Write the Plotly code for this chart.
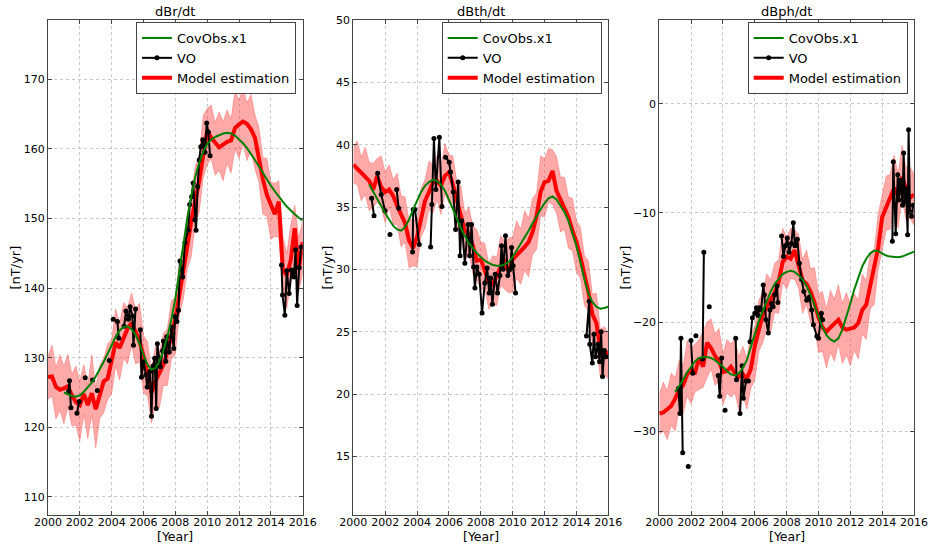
import plotly.graph_objects as go

# ---------------------------------------------------------------- data
# quarterly sampling of the model estimation (2000.0 .. 2016.0)
years = [2000 + 0.25 * i for i in range(65)]
# CovObs.x1 sampled quarterly from 2001.0 to 2016.0
cov_years = [2001 + 0.25 * i for i in range(61)]

# ---- dBr/dt
br_model = [
    127.2, 127.3, 125.8, 125.4, 125.6, 125.9, 124.6, 123.6, 123.2, 124.8, 123.2, 124.9, 122.6,
    124.5, 126.6, 127.0, 129.8, 132.2, 131.4, 132.8, 134.2, 135.0, 133.8, 132.4, 130.2, 127.6,
    125.0, 126.6, 127.8, 129.0, 130.8, 133.0, 135.6, 139.0, 143.0, 146.0, 149.6, 152.2, 155.4,
    159.0, 162.6, 161.6, 160.8, 160.2, 160.6, 161.0, 161.2, 163.0, 163.5, 163.9, 163.6, 162.8,
    161.6, 158.6, 155.6, 153.4, 151.8, 150.6, 152.4, 142.6, 141.8, 144.0, 148.6, 142.6, 146.6,
]
br_spread_up = [
    3.0, 4.5, 2.8, 5.0, 3.2, 4.6, 3.0, 5.2, 3.4, 4.2, 2.9, 5.5, 3.1,
    4.4, 3.3, 5.0, 2.8, 4.8, 3.5, 5.1, 3.0, 4.3, 3.2, 5.4, 3.0, 4.7,
    3.3, 5.0, 2.9, 4.5, 3.4, 5.2, 3.0, 4.6, 3.2, 4.9, 3.1, 5.3, 3.6,
    5.8, 3.2, 4.7, 3.0, 5.1, 3.3, 4.6, 3.1, 5.4, 3.5, 4.8, 3.0, 5.0,
    3.3, 4.5, 3.1, 5.2, 3.4, 4.4, 3.0, 4.9, 3.2, 5.1, 3.3, 4.6, 3.0,
]
br_spread_dn = [
    3.2, 2.8, 4.6, 3.0, 5.1, 2.9, 4.4, 3.3, 5.2, 3.0, 4.8, 3.1, 5.6,
    3.2, 4.5, 3.0, 5.0, 3.4, 4.6, 2.9, 5.1, 3.2, 4.7, 3.0, 5.3, 3.1,
    4.4, 3.3, 5.0, 3.0, 4.8, 3.2, 5.1, 2.9, 4.6, 3.3, 5.0, 3.1, 4.5,
    3.2, 4.9, 3.0, 4.6, 3.3, 5.2, 3.1, 4.7, 3.0, 4.9, 3.2, 5.3, 3.0,
    4.5, 3.4, 5.0, 3.1, 4.8, 3.2, 5.1, 3.0, 4.7, 3.3, 4.9, 3.1, 4.6,
]
br_covobs = [
    125.0, 124.7, 124.5, 124.4, 124.6, 125.1, 125.7, 126.4, 127.3, 128.3, 129.4, 130.6,
    131.8, 133.0, 133.9, 134.4, 134.5, 134.1, 133.3, 132.0, 130.4, 129.0, 128.3, 128.5,
    129.5, 131.0, 133.0, 135.5, 138.5, 142.5, 146.5, 150.0, 153.2, 156.0, 158.0, 159.6,
    160.7, 161.3, 161.7, 162.0, 162.2, 162.3, 162.2, 161.9, 161.4, 160.8, 160.1, 159.3,
    158.4, 157.5, 156.5, 155.6, 154.7, 153.9, 153.1, 152.4, 151.7, 151.1, 150.6, 150.1,
    149.7,
]
br_vo_t = [
    2001.30, 2001.35, 2001.44, None,
    2001.82, 2001.96, None,
    2002.34, None, 2002.80, None, 2003.10, None, 2003.85, None,
    2004.10, 2004.36, 2004.45, None,
    2004.78, 2004.90, 2005.05, 2005.16, 2005.30, 2005.37, 2005.50, None,
    2005.80, 2005.87, 2006.00, 2006.15, 2006.23, 2006.40, 2006.50, 2006.60, 2006.70, 2006.80,
    2006.87, 2007.05, 2007.20, 2007.25, 2007.40, 2007.46, 2007.62, 2007.75, 2007.90, 2007.98,
    2008.10, 2008.20, 2008.29, 2008.46, 2008.60, 2008.80, 2008.90, 2009.02, 2009.12, 2009.23,
    2009.30, 2009.40, 2009.50, 2009.60, 2009.72, 2009.86, 2009.97, 2010.07, 2010.18, None,
    2014.67, 2014.73, 2014.88, 2015.00, 2015.15, 2015.30, 2015.45, 2015.55, 2015.65, 2015.78,
    2015.90,
]
br_vo_v = [
    125.2, 126.7, 122.8, None,
    122.0, 123.7, None,
    127.1, None, 126.8, None, 125.3, None, 129.6, None,
    135.5, 135.2, 132.8, None,
    134.5, 136.7, 135.5, 137.3, 136.0, 131.8, 137.0, None,
    134.0, 127.2, 129.4, 127.5, 125.8, 128.0, 121.6, 128.8, 129.9, 122.7,
    132.0, 128.7, 131.0, 132.4, 129.5, 133.0, 130.8, 134.4, 131.3, 135.9,
    135.2, 136.8, 143.9, 141.6, 146.5, 148.3, 152.0, 153.1, 155.1, 149.8,
    148.3, 154.6, 158.4, 160.3, 161.3, 159.5, 163.7, 162.4, 159.0, None,
    143.3, 139.0, 136.1, 142.5, 139.2, 142.6, 141.6, 145.5, 137.5, 142.9,
    145.9,
]

# ---- dBth/dt
bth_model = [
    38.4, 38.1, 37.7, 37.4, 37.1, 36.4, 37.5, 36.6, 36.2, 36.4, 35.9, 35.1, 34.4,
    33.7, 32.3, 31.7, 32.6, 34.2, 35.5, 36.2, 37.0, 37.1, 36.7, 37.5, 37.8, 36.8,
    35.4, 34.3, 33.1, 32.8, 31.9, 30.7, 30.8, 29.9, 29.0, 28.8, 29.5, 30.2, 30.6,
    29.8, 30.8, 31.1, 31.5, 31.8, 32.2, 33.0, 34.3, 36.2, 37.0, 37.1, 37.9, 36.3,
    35.6, 34.9, 34.2, 33.1, 32.2, 31.0, 29.6, 28.2, 26.4, 25.7, 23.6, 23.1, 23.4,
]
bth_spread_up = [
    1.4, 2.2, 1.3, 2.4, 1.5, 2.1, 1.4, 2.5, 1.6, 2.0, 1.3, 2.6, 1.5,
    2.1, 1.6, 2.4, 1.3, 2.3, 1.7, 2.5, 1.4, 2.0, 1.5, 2.6, 1.4, 2.3,
    1.6, 2.4, 1.4, 2.2, 1.6, 2.5, 1.4, 2.2, 1.5, 2.3, 1.5, 2.5, 1.7,
    2.7, 1.8, 2.8, 1.7, 2.9, 1.9, 2.7, 1.8, 2.9, 1.9, 2.6, 1.7, 2.8,
    1.8, 2.5, 1.6, 2.6, 1.7, 2.4, 1.5, 2.5, 1.6, 2.4, 1.6, 2.3, 1.5,
]
bth_spread_dn = [
    1.5, 1.3, 2.2, 1.4, 2.4, 1.4, 2.1, 1.6, 2.5, 1.4, 2.3, 1.5, 2.6,
    1.5, 2.2, 1.4, 2.4, 1.6, 2.2, 1.4, 2.5, 1.5, 2.3, 1.4, 2.5, 1.5,
    2.1, 1.6, 2.4, 1.4, 2.3, 1.5, 2.4, 1.4, 2.2, 1.6, 2.4, 1.5, 2.2,
    1.7, 2.6, 1.8, 2.7, 1.9, 2.8, 1.8, 2.7, 1.9, 2.8, 1.7, 2.7, 1.8,
    2.6, 1.7, 2.5, 1.6, 2.4, 1.7, 2.5, 1.5, 2.4, 1.6, 2.3, 1.5, 2.2,
]
bth_covobs = [
    36.8, 36.2, 35.6, 35.0, 34.5, 34.0, 33.5, 33.2, 33.1, 33.4, 34.0, 34.8,
    35.5, 36.2, 36.7, 37.0, 37.2, 37.1, 36.8, 36.3, 35.6, 34.8, 34.0, 33.3,
    32.7, 32.1, 31.7, 31.3, 31.0, 30.7, 30.5, 30.35, 30.3, 30.3, 30.4, 30.6,
    31.0, 31.5, 32.0, 32.5, 33.1, 33.7, 34.3, 34.8, 35.3, 35.7, 35.85, 35.6,
    35.1, 34.6, 33.9, 32.9, 31.9, 30.6, 29.2, 28.1, 27.4, 27.0, 26.85, 26.9,
    27.0,
]
bth_vo_t = [
    2001.15, 2001.30, None,
    2001.53, 2001.75, 2001.99, None,
    2002.30, None,
    2002.72, 2002.85, None,
    2003.72, 2003.76, 2003.87, 2004.14, None,
    2004.85, 2004.93, 2005.06, 2005.18, 2005.40, 2005.56, None,
    2005.79, 2006.02, 2006.10, 2006.27, 2006.42, 2006.58, 2006.70, 2006.80, 2007.00, 2007.20,
    2007.30, 2007.42, 2007.55, 2007.63, 2007.75, 2007.90, 2008.08, 2008.25, 2008.40, 2008.53,
    2008.62, 2008.73, 2008.90, 2009.05, 2009.20, 2009.30, 2009.40, 2009.55, 2009.70, 2009.85,
    2009.93, 2010.03, 2010.18, None,
    2014.63, 2014.80, 2014.84, 2015.00, 2015.10, 2015.20, 2015.35, 2015.45, 2015.55, 2015.64,
    2015.75, 2015.85,
]
bth_vo_v = [
    35.7, 34.3, None,
    37.7, 36.0, 34.7, None,
    32.8, None,
    36.4, 34.9, None,
    31.4, 34.8, 34.8, 32.0, None,
    31.8, 35.2, 40.5, 36.4, 40.6, 35.05, None,
    39.0, 38.6, 37.8, 36.2, 33.2, 37.0, 31.1, 33.9, 30.5, 33.6,
    31.1, 33.6, 30.2, 28.5, 30.2, 29.6, 26.5, 28.9, 30.1, 28.1,
    29.3, 27.2, 29.6, 28.1, 29.5, 31.9, 30.0, 32.7, 29.5, 30.0,
    31.75, 30.3, 28.1, None,
    24.65, 27.45, 24.0, 22.5, 24.8, 23.0, 24.0, 22.6, 25.0, 21.4,
    23.5, 23.0,
]

# ---- dBph/dt
bph_model = [
    -28.4, -28.3, -28.0, -27.7, -27.0, -26.2, -25.8, -24.8, -24.4, -24.6, -23.3, -24.1, -21.9,
    -22.4, -23.1, -23.6, -24.6, -24.5, -24.1, -24.7, -25.0, -24.8, -25.2, -24.3, -22.2, -20.8,
    -19.3, -18.6, -17.9, -17.3, -16.3, -14.5, -14.0, -14.2, -13.4, -14.9, -16.2, -16.5, -17.2,
    -18.2, -19.6, -20.5, -20.9, -20.5, -20.2, -19.8, -20.5, -20.7, -20.6, -20.5, -20.1, -18.9,
    -18.4, -16.7, -15.3, -13.2, -10.4, -9.5, -8.4, -7.7, -8.4, -6.7, -7.8, -8.6, -8.3,
]
bph_spread_up = [
    1.8, 2.8, 1.7, 3.0, 1.9, 2.7, 1.8, 3.1, 2.0, 2.6, 1.7, 3.2, 1.9,
    2.7, 2.0, 3.0, 1.7, 2.9, 2.1, 3.1, 1.8, 2.6, 1.9, 3.2, 1.8, 2.8,
    2.0, 3.0, 1.8, 2.7, 2.0, 3.1, 1.8, 2.8, 1.9, 2.9, 1.9, 3.1, 2.1,
    3.2, 2.2, 3.3, 2.1, 3.4, 2.3, 3.2, 2.2, 3.4, 2.3, 3.1, 2.1, 3.3,
    2.2, 3.0, 2.0, 3.1, 2.1, 2.9, 1.9, 3.0, 2.0, 2.9, 2.0, 2.8, 1.9,
]
bph_spread_dn = [
    1.9, 1.7, 2.8, 1.8, 3.0, 1.8, 2.6, 2.0, 3.1, 1.8, 2.9, 1.9, 3.2,
    1.9, 2.7, 1.8, 3.0, 2.0, 2.8, 1.8, 3.1, 1.9, 2.8, 1.8, 3.1, 1.9,
    2.6, 2.0, 3.0, 1.8, 2.9, 1.9, 3.0, 1.8, 2.7, 2.0, 3.0, 1.9, 2.8,
    2.1, 3.2, 2.2, 3.3, 2.3, 3.4, 2.2, 3.3, 2.3, 3.4, 2.1, 3.3, 2.2,
    3.2, 2.1, 3.1, 2.0, 3.0, 2.1, 3.1, 1.9, 3.0, 2.0, 2.9, 1.9, 2.8,
]
bph_covobs = [
    -26.4, -25.9, -25.3, -24.6, -24.1, -23.6, -23.3, -23.2, -23.2, -23.3, -23.5, -23.8,
    -24.1, -24.5, -24.8, -24.9, -24.7, -24.2, -23.5, -22.3, -21.0, -19.9, -19.0, -18.1,
    -17.2, -16.5, -16.0, -15.6, -15.4, -15.3, -15.4, -15.7, -16.1, -16.7, -17.5, -18.5,
    -19.6, -20.5, -21.2, -21.6, -21.8, -21.5, -20.7, -19.6, -18.3, -17.0, -15.9, -14.9,
    -14.2, -13.7, -13.45, -13.5, -13.7, -13.9, -14.0, -14.05, -14.05, -14.0, -13.85, -13.7,
    -13.55,
]
bph_vo_t = [
    2001.20, 2001.30, 2001.36, 2001.47, None,
    2001.82, None,
    2001.99, 2002.10, None,
    2002.30, None,
    2002.72, 2002.80, None,
    2003.14, None,
    2003.70, 2003.80, 2003.92, None,
    2004.13, None,
    2004.80, 2004.85, None,
    2005.07, 2005.20, 2005.28, 2005.45, 2005.60, None,
    2005.70, 2005.85, 2006.00, 2006.10, 2006.20, 2006.30, 2006.40, 2006.53, 2006.60, 2006.70,
    2006.85, 2006.95, 2007.05, 2007.15, 2007.25, 2007.40, 2007.45, None,
    2007.68, 2007.80, 2007.92, 2008.04, 2008.15, 2008.30, 2008.42, 2008.52, 2008.67, 2008.80,
    2008.94, 2009.08, 2009.26, 2009.43, 2009.57, 2009.68, 2009.90, 2010.00, 2010.18, 2010.26, None,
    2014.64, 2014.70, 2014.85, 2014.98, 2015.05, 2015.15, 2015.28, 2015.35, 2015.43, 2015.50,
    2015.60, 2015.66, 2015.75, 2015.85, 2015.95,
]
bph_vo_v = [
    -26.1, -28.4, -21.5, -32.0, None,
    -33.25, None,
    -21.7, -24.7, None,
    -21.25, None,
    -23.4, -13.6, None,
    -18.6, None,
    -24.9, -26.8, -23.3, None,
    -28.1, None,
    -21.5, -25.3, None,
    -28.4, -24.0, -27.0, -25.4, -25.4, None,
    -21.8, -19.6, -19.2, -18.7, -19.4, -18.7, -18.9, -16.6, -17.5, -19.8,
    -21.0, -18.9, -18.3, -18.6, -17.5, -16.7, -18.2, None,
    -12.1, -14.0, -13.0, -12.3, -13.6, -12.8, -10.9, -13.0, -12.4, -14.6,
    -16.1, -17.2, -18.0, -17.7, -18.9, -20.25, -21.3, -21.5, -19.2, -19.8, None,
    -12.6, -5.3, -11.9, -6.5, -8.8, -7.0, -9.3, -4.5, -9.0, -7.8,
    -12.0, -2.36, -9.9, -10.3, -9.3,
]

panel_titles = ["dBr/dt", "dBth/dt", "dBph/dt"]
y_ranges = [[107.4, 178.5], [10.3, 50.0], [-37.7, 7.7]]
y_ticks = [[110, 120, 130, 140, 150, 160, 170],
           [15, 20, 25, 30, 35, 40, 45, 50],
           [-30, -20, -10, 0]]
x_ticks = [2000, 2002, 2004, 2006, 2008, 2010, 2012, 2014, 2016]

panels = [
    (br_model, br_spread_up, br_spread_dn, br_covobs, br_vo_t, br_vo_v),
    (bth_model, bth_spread_up, bth_spread_dn, bth_covobs, bth_vo_t, bth_vo_v),
    (bph_model, bph_spread_up, bph_spread_dn, bph_covobs, bph_vo_t, bph_vo_v),
]

# ---------------------------------------------------------------- layout geometry
W, H = 929, 545
ML, MR, MT, MB = 48, 15, 20, 30
PW, PH = W - ML - MR, H - MT - MB
px_domains = [(48.0, 302.7), (353.3, 608.3), (659.3, 914.0)]
domains = [(max(0.0, (a - ML) / PW), min(1.0, (b - ML) / PW)) for a, b in px_domains]
legend_right_px = [296, 601.7, 907.7]
ytitle_px = [15, 327, 625]


def px_to_paper_x(px):
    return (px - ML) / PW


def px_to_paper_y(py):
    return 1 - (py - MT) / PH


FONT = "DejaVu Sans, Verdana, sans-serif"
GREEN = "#008000"

fig = go.Figure()
annotations = []
layout_extra = {}

for i, (model, sp_up, sp_dn, cov, vo_t, vo_v) in enumerate(panels):
    n = i + 1
    xa = "x" if n == 1 else f"x{n}"
    ya = "y" if n == 1 else f"y{n}"
    leg = "legend" if n == 1 else f"legend{n}"

    upper = [m + u for m, u in zip(model, sp_up)]
    lower = [m - d for m, d in zip(model, sp_dn)]

    # ensemble spread
    fig.add_trace(go.Scatter(
        x=years + years[::-1], y=upper + lower[::-1],
        fill="toself", fillcolor="rgba(255,40,40,0.40)",
        line=dict(width=0.6, color="rgba(255,60,60,0.55)"),
        mode="lines", hoverinfo="skip", showlegend=False,
        xaxis=xa, yaxis=ya,
    ))
    # model estimation
    fig.add_trace(go.Scatter(
        x=years, y=model, mode="lines", name="Model estimation",
        line=dict(color="#ff0000", width=4),
        legend=leg, legendrank=3, xaxis=xa, yaxis=ya,
    ))
    # virtual observatory
    fig.add_trace(go.Scatter(
        x=vo_t, y=vo_v, mode="lines+markers", name="VO",
        line=dict(color="black", width=2),
        marker=dict(color="black", size=5),
        connectgaps=False,
        legend=leg, legendrank=2, xaxis=xa, yaxis=ya,
    ))
    # CovObs.x1
    fig.add_trace(go.Scatter(
        x=cov_years, y=cov, mode="lines", name="CovObs.x1",
        line=dict(color=GREEN, width=2),
        legend=leg, legendrank=1, xaxis=xa, yaxis=ya,
    ))

    axis_common = dict(
        showline=True, mirror="ticks", linecolor="#444", linewidth=1,
        ticks="inside", ticklen=4, tickcolor="#444",
        showgrid=True, gridcolor="#c8c8c8", griddash="dot", gridwidth=1,
        zeroline=False, tickfont=dict(family=FONT, size=11, color="black"),
        automargin=False,
    )
    layout_extra["xaxis" if n == 1 else f"xaxis{n}"] = dict(
        domain=list(domains[i]), range=[2000, 2016], tickvals=x_ticks,
        anchor=ya, ticklabelstandoff=-3, **axis_common,
    )
    layout_extra["yaxis" if n == 1 else f"yaxis{n}"] = dict(
        domain=[0, 1], range=y_ranges[i], tickvals=y_ticks[i],
        anchor=xa, **axis_common,
    )
    layout_extra[leg] = dict(
        x=px_to_paper_x(legend_right_px[i]), y=px_to_paper_y(22),
        xanchor="right", yanchor="top",
        bgcolor="white", bordercolor="#444", borderwidth=1,
        font=dict(family=FONT, size=13, color="black"),
        itemwidth=30, tracegroupgap=0,
    )

    xc = (domains[i][0] + domains[i][1]) / 2
    annotations.append(dict(
        text=panel_titles[i], x=xc, y=px_to_paper_y(12), xref="paper", yref="paper",
        showarrow=False, xanchor="center", yanchor="middle",
        font=dict(family=FONT, size=13, color="black"),
    ))
    annotations.append(dict(
        text="[Year]", x=xc, y=px_to_paper_y(545), xref="paper", yref="paper",
        showarrow=False, xanchor="center", yanchor="bottom", borderpad=0,
        font=dict(family=FONT, size=12.5, color="black"),
    ))
    annotations.append(dict(
        text="[nT/yr]", x=px_to_paper_x(ytitle_px[i]), y=0.5, xref="paper", yref="paper",
        showarrow=False, xanchor="center", yanchor="middle", textangle=-90,
        font=dict(family=FONT, size=13, color="black"),
    ))

fig.update_layout(
    width=W, height=H,
    margin=dict(l=ML, r=MR, t=MT, b=MB, autoexpand=False),
    paper_bgcolor="white", plot_bgcolor="white",
    font=dict(family=FONT, size=12, color="black"),
    annotations=annotations,
    **layout_extra,
)

fig.write_html("out.html")
